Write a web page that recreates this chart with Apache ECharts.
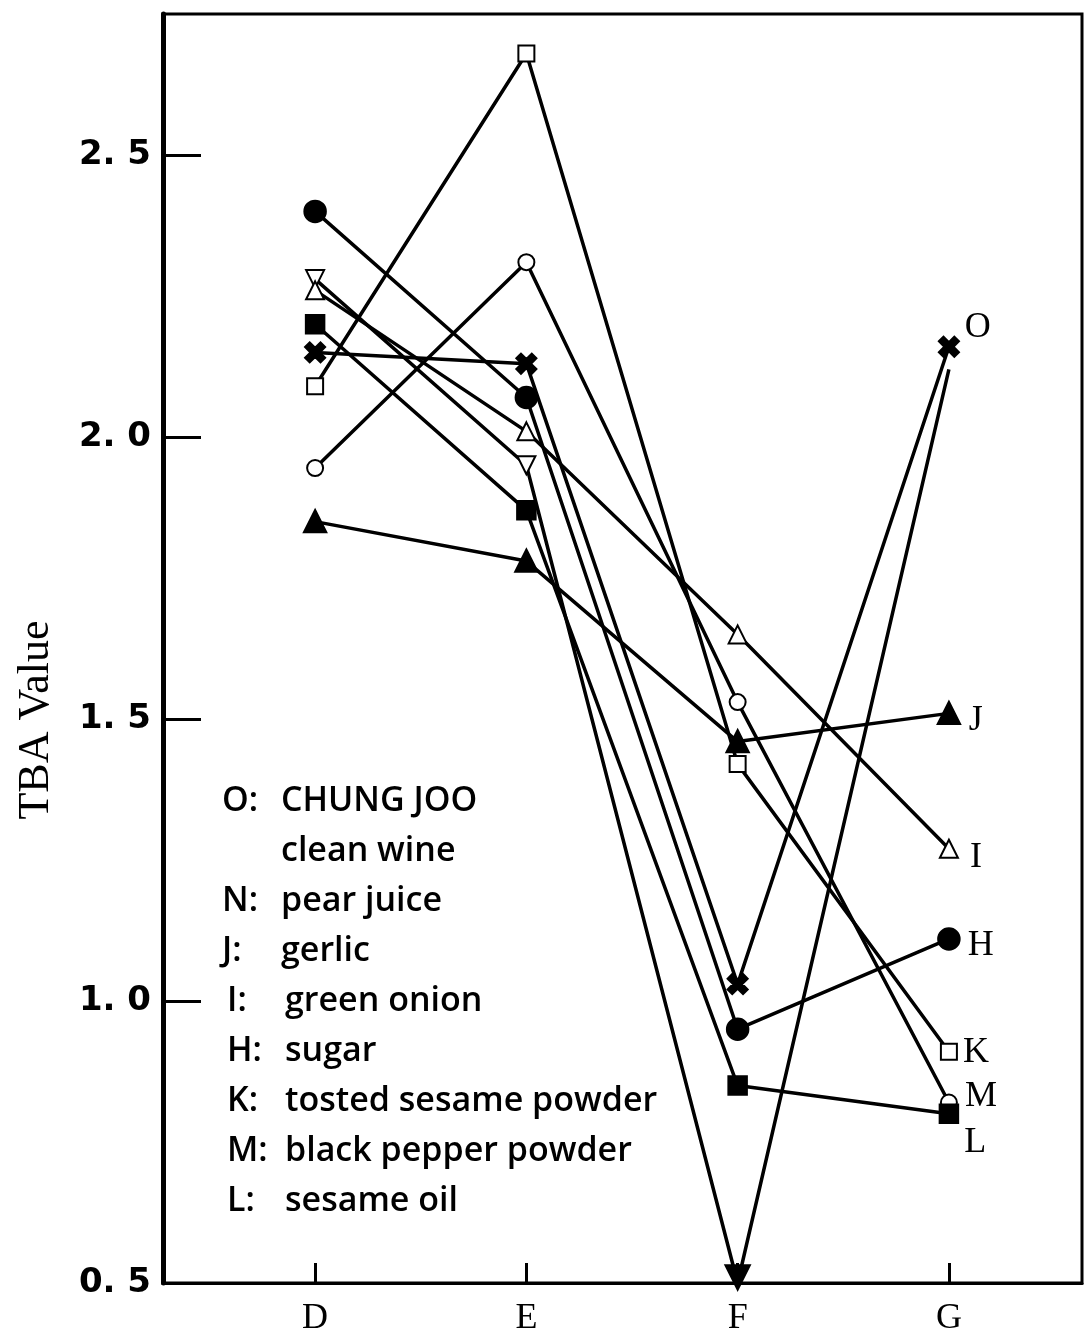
<!DOCTYPE html>
<html>
<head>
<meta charset="utf-8">
<script src="https://cdn.jsdelivr.net/npm/echarts@6/dist/echarts.min.js"></script>
<style>
html,body{margin:0;padding:0;background:#fff;}
#chart{width:1085px;height:1337px;}
</style>
</head>
<body>
<div id="chart"></div>
<script>
// ---- data ----
const categories = ['D', 'E', 'F', 'G'];
const yTickLabels = [0.5, 1.0, 1.5, 2.0, 2.5];
const seriesKeys = ['O', 'N', 'J', 'I', 'H', 'K', 'M', 'L'];
const O = [2.15, 2.13, 1.03, 2.16];
const N = [2.28, 1.95, 0.50, 2.12];
const J = [1.85, 1.78, 1.46, 1.51];
const I = [2.26, 2.01, 1.65, 1.27];
const H = [2.40, 2.07, 0.95, 1.11];
const K = [2.09, 2.68, 1.42, 0.91];
const M = [1.945, 2.31, 1.53, 0.82];
const L = [2.20, 1.87, 0.85, 0.80];
const yAxisTitle = 'TBA Value';
const legendKeys = ['O:', '', 'N:', 'J:', 'I:', 'H:', 'K:', 'M:', 'L:'];
const legendTexts = ['CHUNG JOO', 'clean wine', 'pear juice', 'gerlic', 'green onion', 'sugar', 'tosted sesame powder', 'black pepper powder', 'sesame oil'];

const values = {O, N, J, I, H, K, M, L};

// ---- styles ----
const crossPath = 'path://M0,2 L2,0 L5,3 L8,0 L10,2 L7,5 L10,8 L8,10 L5,7 L2,10 L0,8 L3,5 Z';
const styles = {
  O: {symbol: crossPath, size: 18, label: [0, -19]},
  N: {symbol: 'emptyTriangle', size: 18, rotate: 180, label: null},
  J: {symbol: 'triangle', size: 20, label: [3, 7]},
  I: {symbol: 'emptyTriangle', size: 18, label: [6, 9]},
  H: {symbol: 'circle', size: 20, label: [2, 7]},
  K: {symbol: 'emptyRect', size: 16, label: [0, 1]},
  M: {symbol: 'emptyCircle', size: 16, label: [2, -6]},
  L: {symbol: 'rect', size: 17, label: [0, 29]}
};

const series = seriesKeys.map(key => {
  const st = styles[key];
  const data = values[key].map((v, i) => {
    const item = {value: [i, v]};
    if (key === 'N' && i === 2) {
      item.symbol = 'triangle';
      item.symbolSize = 22;
      item.symbolOffset = [0, -6];
    }
    if (key === 'N' && i === 3) {
      item.symbol = 'none';
    }
    if (i === 3 && st.label) {
      item.label = {
        show: true,
        position: 'right',
        distance: 5,
        offset: st.label,
        formatter: key,
        fontFamily: 'Liberation Serif',
        fontSize: 36,
        color: '#000'
      };
    }
    return item;
  });
  return {
    type: 'line',
    name: key,
    data: data,
    symbol: st.symbol,
    symbolSize: st.size,
    symbolRotate: st.rotate || 0,
    showAllSymbol: true,
    lineStyle: {color: '#000', width: 3.5},
    itemStyle: {color: '#000', borderColor: '#000', borderWidth: 3.5},
    emphasis: {disabled: true},
    animation: false,
    z: 3
  };
});

const graphics = [];
const legendTop = 801;
const legendStep = 50.1;
legendTexts.forEach((t, i) => {
  const y = legendTop + i * legendStep;
  if (legendKeys[i]) {
    graphics.push({
      type: 'text', x: 222 + (i >= 4 ? 5 : 0), y: y,
      style: {text: legendKeys[i], font: '600 34px "Open Sans"', fill: '#000', verticalAlign: 'middle'}
    });
  }
  graphics.push({
    type: 'text', x: 281 + (i >= 4 ? 4 : 0), y: y,
    style: {text: t, font: '600 34px "Open Sans"', fill: '#000', verticalAlign: 'middle'}
  });
});
graphics.push({
  type: 'text', x: 36, y: 720, rotation: Math.PI / 2,
  style: {text: yAxisTitle, font: '44px "Liberation Serif"', fill: '#000', align: 'center', verticalAlign: 'middle'}
});

const chart = echarts.init(document.getElementById('chart'), null, {renderer: 'canvas'});
chart.setOption({
  animation: false,
  backgroundColor: '#fff',
  grid: {left: 163, right: 3, top: 14, bottom: 52, show: true, borderColor: '#000', borderWidth: 3, containLabel: false},
  xAxis: {
    type: 'value',
    min: -0.72,
    max: 3.63,
    splitLine: {show: false},
    axisLine: {show: true, onZero: false, lineStyle: {color: '#000', width: 3}},
    axisTick: {show: true, inside: true, length: 20, lineStyle: {color: '#000', width: 3}, customValues: [0, 1, 2, 3]},
    axisLabel: {
      customValues: [0, 1, 2, 3],
      formatter: v => categories[Math.round(v)],
      fontFamily: 'Liberation Serif', fontSize: 36, color: '#000', margin: 18
    }
  },
  yAxis: {
    type: 'value',
    min: 0.5,
    max: 2.75,
    splitLine: {show: false},
    axisLine: {show: true, onZero: false, lineStyle: {color: '#000', width: 5}},
    axisTick: {show: true, inside: true, length: 38, lineStyle: {color: '#000', width: 3}, customValues: [1.0, 1.5, 2.0, 2.5]},
    axisLabel: {
      customValues: yTickLabels,
      formatter: v => v.toFixed(1).replace('.', '. '),
      fontFamily: 'DejaVu Sans', fontWeight: 'bold', fontSize: 34, color: '#000', margin: 12
    }
  },
  series: series,
  graphic: graphics
});
</script>
</body>
</html>
